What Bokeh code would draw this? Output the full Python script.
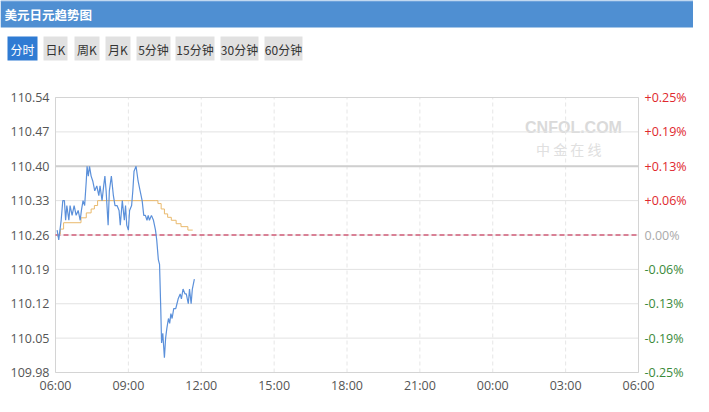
from bokeh.plotting import figure
from bokeh.models import Range1d
from bokeh.core.properties import value
from bokeh.embed import file_html
from bokeh.resources import INLINE

# ---------------- data ----------------
title = "美元日元趋势图"
tabs = ["分时", "日K", "周K", "月K", "5分钟", "15分钟", "30分钟", "60分钟"]

prev_close = 110.26

price_times = ["06:04", "06:08", "06:14", "06:18", "06:22", "06:25", "06:28", "06:33", "06:36", "06:41",
               "06:46", "06:51", "06:56", "07:01", "07:04", "07:08", "07:12", "07:16", "07:18", "07:21",
               "07:24", "07:28", "07:32", "07:37", "07:42", "07:47", "07:50", "07:55", "07:59", "08:02",
               "08:05", "08:10", "08:13", "08:18", "08:23", "08:27", "08:32", "08:37", "08:40", "08:45",
               "08:50", "08:53", "08:56", "09:00", "09:03", "09:08", "09:11", "09:14", "09:19", "09:24",
               "09:29", "09:34", "09:38", "09:42", "09:46", "09:49", "09:52", "09:57", "10:02", "10:07",
               "10:10", "10:14", "10:17", "10:20", "10:22", "10:25", "10:29", "10:32", "10:35", "10:39",
               "10:42", "10:45", "10:48", "10:52", "10:57", "11:00", "11:03", "11:08", "11:11", "11:15",
               "11:20", "11:23", "11:28", "11:31", "11:35", "11:38", "11:43"]
price_values = [110.27, 110.25, 110.29, 110.33, 110.33, 110.29, 110.32, 110.29, 110.32, 110.30,
                110.32, 110.30, 110.31, 110.29, 110.31, 110.33, 110.32, 110.37, 110.40, 110.38,
                110.40, 110.38, 110.37, 110.35, 110.36, 110.34, 110.36, 110.33, 110.36, 110.38,
                110.35, 110.28, 110.35, 110.38, 110.34, 110.32, 110.32, 110.31, 110.28, 110.33,
                110.29, 110.32, 110.28, 110.27, 110.31, 110.32, 110.35, 110.39, 110.40, 110.37,
                110.35, 110.33, 110.30, 110.30, 110.29, 110.30, 110.29, 110.30, 110.29, 110.27,
                110.25, 110.21, 110.20, 110.11, 110.04, 110.06, 110.01, 110.05, 110.07, 110.09,
                110.08, 110.10, 110.09, 110.11, 110.11, 110.12, 110.13, 110.14, 110.13, 110.15,
                110.14, 110.14, 110.12, 110.15, 110.12, 110.15, 110.17]

avg_times = ["06:04", "06:08", "06:12", "06:20", "07:03", "07:16", "07:28", "07:36", "07:44",
             "10:08", "10:13", "10:21", "10:29", "10:37", "10:46", "10:58", "11:10", "11:27", "11:39"]
avg_values = [110.258, 110.262, 110.272, 110.285, 110.295, 110.305, 110.313, 110.320, 110.330,
              110.330, 110.324, 110.313, 110.303, 110.296, 110.290, 110.283, 110.277, 110.270, 110.270]

y_ticks = [109.98, 110.05, 110.12, 110.19, 110.26, 110.33, 110.40, 110.47, 110.54]
y_labels = ["109.98", "110.05", "110.12", "110.19", "110.26", "110.33", "110.40", "110.47", "110.54"]
pct_labels = ["-0.25%", "-0.19%", "-0.13%", "-0.06%", "0.00%", "+0.06%", "+0.13%", "+0.19%", "+0.25%"]
x_ticks = [0, 3, 6, 9, 12, 15, 18, 21, 24]
x_labels = ["06:00", "09:00", "12:00", "15:00", "18:00", "21:00", "00:00", "03:00", "06:00"]


def to_hours(t):
    h, m = t.split(":")
    mins = (int(h) * 60 + int(m) - 360) % 1440
    return mins / 60.0


px = [to_hours(t) for t in price_times]
ax = [to_hours(t) for t in avg_times]

FONT = "Open Sans"
CJK = "Noto Sans CJK SC"

# ---------------- layout (pixels) ----------------
W, H = 693, 396
L, R, T, B = 55, 638, 97, 372      # plot box inside the canvas
X0, X1 = x_ticks[0], x_ticks[-1]
Y0, Y1 = y_ticks[0], y_ticks[-1]
kx = (X1 - X0) / (R - L)
ky = (Y1 - Y0) / (B - T)

p = figure(width=W, height=H, x_range=Range1d(0, W), y_range=Range1d(H, 0),
           output_backend="svg", toolbar_location=None, min_border=0,
           x_axis_location=None, y_axis_location=None, outline_line_color=None)
p.grid.visible = False
p.background_fill_color = "white"
p.extra_x_ranges = {"t": Range1d(X0 - L * kx, X1 + (W - R) * kx)}
p.extra_y_ranges = {"v": Range1d(Y0 - (H - B) * ky, Y1 + T * ky)}
D = dict(x_range_name="t", y_range_name="v")

# ---------------- header ----------------
p.quad(left=[0], right=[W], top=[0], bottom=[27], fill_color="#4f8fd2", line_color=None)
p.quad(left=[0], right=[W], top=[0], bottom=[1], fill_color="#8db6e4", line_color=None)
p.text(x=[4], y=[14], text=[title], text_color="white", text_font=value(CJK),
       text_font_size="12.5px", text_font_style="bold", text_baseline="middle")

btn_left = [7, 43, 74, 105, 136, 175, 220, 264]
btn_right = [37, 67, 99, 130, 170, 214, 258, 302]
btn_fill = ["#2f7bd3"] + ["#e1e1e1"] * (len(tabs) - 1)
btn_text = ["white"] + ["#333333"] * (len(tabs) - 1)
p.quad(left=btn_left, right=btn_right, top=[36] * len(tabs), bottom=[60] * len(tabs),
       fill_color=btn_fill, line_color=None)
p.text(x=[(a + b) / 2 for a, b in zip(btn_left, btn_right)], y=[48.5] * len(tabs), text=tabs,
       text_color=btn_text, text_font=value(CJK), text_font_size="12px",
       text_align="center", text_baseline="middle")

# watermark
p.text(x=[573], y=[127], text=["CNFOL.COM"], text_color="#dadada", text_font=value("Liberation Sans"),
       text_font_size="16px", text_font_style="bold", text_align="center", text_baseline="middle")
p.text(x=[573], y=[148], text=["中  金  在  线"], text_color="#e0e0e0", text_font=value(CJK),
       text_font_size="14px", text_align="center", text_baseline="middle")

# ---------------- chart grid ----------------
n = len(y_ticks)
p.segment(x0=[X0] * n, x1=[X1] * n, y0=y_ticks, y1=y_ticks, line_color="#e2e2e2", line_width=1, **D)
m = len(x_ticks)
p.segment(x0=x_ticks, x1=x_ticks, y0=[Y0] * m, y1=[Y1] * m, line_color="#e6e6e6", line_width=1,
          line_dash="4 3", **D)
p.quad(left=[X0], right=[X1], bottom=[Y0], top=[Y1], fill_color=None, line_color="#d4d4d4", **D)

hi = max(price_values)
p.segment(x0=[X0], x1=[X1], y0=[hi], y1=[hi], line_color="#cfcfcf", line_width=2, **D)
p.segment(x0=[X0], x1=[X1], y0=[prev_close], y1=[prev_close], line_color="#c0103a", line_width=1,
          line_dash="5 3", **D)

# ---------------- series ----------------
p.step(ax, avg_values, mode="after", line_color="#e9b96c", line_width=1, **D)
p.line(px, price_values, line_color="#5b90da", line_width=1.2, **D)

# ---------------- tick labels ----------------
p.text(x=[X0] * n, y=y_ticks, text=y_labels, x_offset=-6, text_align="right", text_baseline="middle",
       text_color="#555555", text_font=value(FONT), text_font_size="12.5px", **D)
colors = ["#3a8a3a" if s.startswith("-") else ("#e0282e" if s.startswith("+") else "#aaaaaa")
          for s in pct_labels]
p.text(x=[X1] * n, y=y_ticks, text=pct_labels, x_offset=6, text_align="left", text_baseline="middle",
       text_color=colors, text_font=value(FONT), text_font_size="12.5px", **D)
p.text(x=x_ticks, y=[Y0] * m, text=x_labels, y_offset=4, text_align="center", text_baseline="top",
       text_color="#555555", text_font=value(FONT), text_font_size="12.5px", **D)

open("out.html", "w").write(file_html(p, INLINE))
